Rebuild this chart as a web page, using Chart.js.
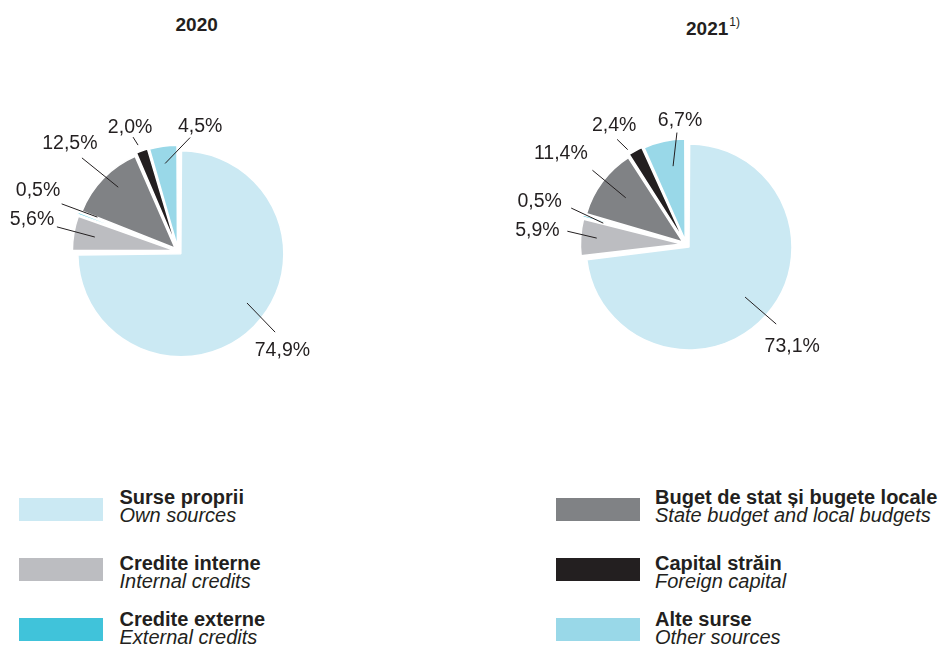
<!DOCTYPE html>
<html lang="ro">
<head>
  <meta charset="UTF-8">
  <title>Surse de finanțare a investițiilor</title>
  <script src="https://cdn.jsdelivr.net/npm/chart.js"></script>
  <style>
    body { margin: 0; background: #fff; color: #231f20; font-family: 'Liberation Sans', Arial, sans-serif; }
    #page { position: relative; width: 945px; height: 648px; overflow: hidden; }
    .year { position: absolute; font-weight: bold; font-size: 19px; line-height: 19px; white-space: nowrap; }
    .year .note { position: relative; top: -9px; margin-left: 1px; font-weight: normal; font-size: 12px; }
    canvas { position: absolute; }
    .swatch { position: absolute; width: 84px; height: 23px; }
    .name { position: absolute; font-size: 20px; line-height: 18px; white-space: nowrap; }
    .name b, .name i { display: block; }
  </style>
</head>
<body>
  <div id="page">
    <div class="year" style="left:175.5px; top:14.5px;">2020</div>
    <div class="year" style="left:686px; top:19px;">2021<span class="note">1)</span></div>
    <canvas id="pie2020" width="360" height="290" style="left:0; top:100px;"></canvas>
    <canvas id="pie2021" width="360" height="290" style="left:490px; top:100px;"></canvas>
    <div id="legend"></div>
  </div>

  <script>
    // Structura investițiilor pe surse de finanțare (%)
    const categories = ['Surse proprii', 'Credite interne', 'Credite externe', 'Buget de stat și bugete locale', 'Capital străin', 'Alte surse'];
    const categoriesEn = ['Own sources', 'Internal credits', 'External credits', 'State budget and local budgets', 'Foreign capital', 'Other sources'];
    const values2020 = [74.9, 5.6, 0.5, 12.5, 2.0, 4.5];
    const values2021 = [73.1, 5.9, 0.5, 11.4, 2.4, 6.7];
    const colors = ['#cbe9f3', '#bcbdc1', '#40c3da', '#808285', '#231f20', '#99d8e8'];

    // label placement per slice: [inner r, inner deg, elbow r, elbow deg, text r, text deg]
    // radii as fraction of the slice radius, degrees relative to slice middle
    const labelPos2020 = [
      [0.80, -8.2, 1.19, -5.1, 1.36, -1.3],
      [0.78, -0.2, 1.16, 1.6, 1.41, 2.3],
      [0.81, 2.2, 1.18, 1.4, 1.44, 2.6],
      [0.81, 2.9, 1.26, 0, 1.44, 0.7],
      [1.06, -0.9, 1.15, -1.8, 1.25, -1.4],
      [0.82, -0.3, 1.07, 14.7, 1.19, 18.8]
    ];
    const labelPos2021 = [
      [0.73, 0.2, 1.13, -0.1, 1.39, 2.3],
      [0.83, 0.2, 1.12, 2.6, 1.41, 1.7],
      [0.79, -1, 1.13, 2.3, 1.44, 0.9],
      [0.70, 1, 1.12, 1.7, 1.46, -0.9],
      [1.04, -3.3, 1.18, -5, 1.31, -2.8],
      [0.73, 2.8, 1.05, 7.7, 1.16, 9.6]
    ];

    const fmt = v => v.toFixed(1).replace('.', ',') + '%';

    // percentage labels with a thin leader line, drawn from the arc geometry
    const pieLabels = {
      id: 'pieLabels',
      afterDatasetsDraw(chart, args, opts) {
        const ctx = chart.ctx;
        const meta = chart.getDatasetMeta(0);
        const data = chart.data.datasets[0].data;
        const rad = Math.PI / 180;
        ctx.save();
        ctx.strokeStyle = '#231f20';
        ctx.fillStyle = '#231f20';
        ctx.lineWidth = 1;
        ctx.font = '19.5px "Liberation Sans", Arial, sans-serif';
        ctx.textAlign = 'center';
        ctx.textBaseline = 'middle';
        meta.data.forEach((arc, i) => {
          const p = opts.pos[i];
          const mid = (arc.startAngle + arc.endAngle) / 2;
          const shift = (arc.options.offset || 0) / 4;
          const cx = arc.x + Math.cos(mid) * shift;
          const cy = arc.y + Math.sin(mid) * shift;
          const r = arc.outerRadius + shift;
          const at = (f, d) => [cx + Math.cos(mid + d * rad) * f * r, cy + Math.sin(mid + d * rad) * f * r];
          const a = at(p[0], p[1]);
          const b = at(p[2], p[3]);
          const t = at(p[4], p[5]);
          ctx.beginPath();
          ctx.moveTo(a[0], a[1]);
          ctx.lineTo(b[0], b[1]);
          ctx.stroke();
          ctx.fillText(fmt(data[i]), t[0], t[1]);
        });
        ctx.restore();
      }
    };

    function makePie(id, values, pos, padding) {
      return new Chart(document.getElementById(id), {
        type: 'pie',
        data: {
          labels: categories,
          datasets: [{
            data: values,
            backgroundColor: colors,
            borderColor: '#ffffff',
            borderWidth: 1.5,
            hoverBorderWidth: 1.5,
            offset: 16,
            hoverOffset: 16
          }]
        },
        options: {
          responsive: false,
          animation: false,
          events: [],
          layout: { padding },
          plugins: {
            legend: { display: false },
            tooltip: { enabled: false },
            pieLabels: { pos }
          }
        },
        plugins: [pieLabels]
      });
    }

    makePie('pie2020', values2020, labelPos2020, { left: 70.25, top: 43.25, right: 74.25, bottom: 31.25 });
    makePie('pie2021', values2021, labelPos2021, { left: 88.25, top: 36.55, right: 56.25, bottom: 37.95 });

    // two-column legend below the pies
    const legend = document.getElementById('legend');
    const rowSwatchTop = [498, 558, 618];
    const rowTextTop = [488, 554, 610];
    categories.forEach((name, i) => {
      const col = Math.floor(i / 3);
      const row = i % 3;
      const sw = document.createElement('div');
      sw.className = 'swatch';
      sw.style.left = (col ? 556 : 19) + 'px';
      sw.style.top = rowSwatchTop[row] + 'px';
      sw.style.background = colors[i];
      legend.appendChild(sw);
      const txt = document.createElement('div');
      txt.className = 'name';
      txt.style.left = (col ? 655 : 119.5) + 'px';
      txt.style.top = rowTextTop[row] + 'px';
      txt.innerHTML = '<b>' + name + '</b><i>' + categoriesEn[i] + '</i>';
      legend.appendChild(txt);
    });
  </script>
</body>
</html>
